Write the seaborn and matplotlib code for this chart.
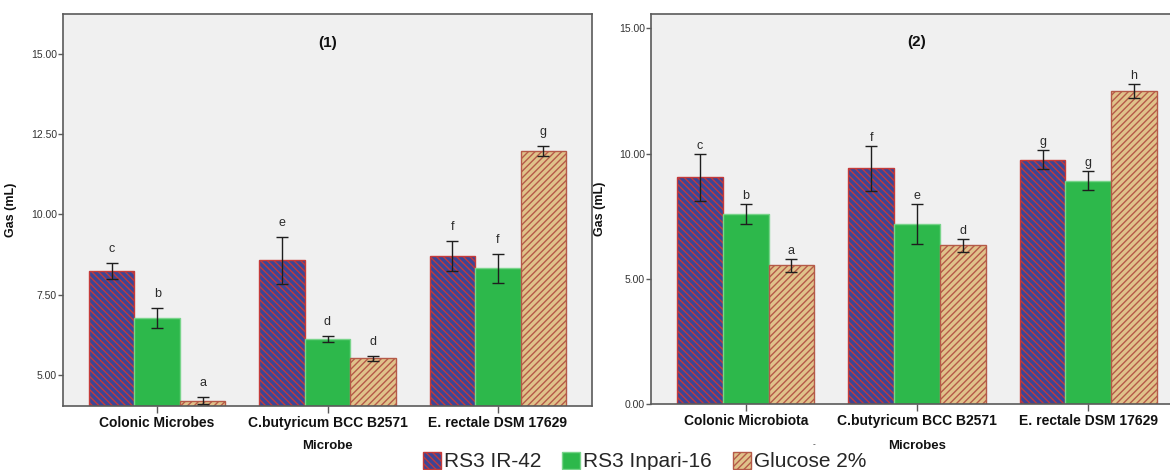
import numpy as np
import pandas as pd
import matplotlib
matplotlib.use("Agg")
import matplotlib.pyplot as plt
from matplotlib.patches import Patch
from matplotlib.ticker import FormatStrFormatter
import seaborn as sns

# ---- data ---------------------------------------------------------------
treatments = ["RS3 IR-42", "RS3 Inpari-16", "Glucose 2%"]

# panel (1)
microbes_1 = ["Colonic Microbes", "C.butyricum BCC B2571", "E. rectale DSM 17629"]
ir42_1 = [8.23, 8.57, 8.70]
ir42_err_1 = [0.25, 0.73, 0.47]
inpari_1 = [6.77, 6.11, 8.31]
inpari_err_1 = [0.32, 0.09, 0.46]
glucose_1 = [4.19, 5.51, 11.97]
glucose_err_1 = [0.11, 0.08, 0.15]
ir42_sig_1 = ["c", "e", "f"]
inpari_sig_1 = ["b", "d", "f"]
glucose_sig_1 = ["a", "d", "g"]

# panel (2)
microbes_2 = ["Colonic Microbiota", "C.butyricum BCC B2571", "E. rectale DSM 17629"]
ir42_2 = [9.05, 9.41, 9.75]
ir42_err_2 = [0.95, 0.90, 0.38]
inpari_2 = [7.58, 7.19, 8.91]
inpari_err_2 = [0.40, 0.81, 0.38]
glucose_2 = [5.53, 6.33, 12.50]
glucose_err_2 = [0.26, 0.26, 0.29]
ir42_sig_2 = ["c", "f", "g"]
inpari_sig_2 = ["b", "e", "g"]
glucose_sig_2 = ["a", "d", "h"]

yticks_1 = [5.0, 7.5, 10.0, 12.5, 15.0]
yticks_2 = [0.0, 5.0, 10.0, 15.0]

# ---- styling ------------------------------------------------------------
sns.set_style("white")
plt.rcParams["font.family"] = ["Liberation Sans", "DejaVu Sans"]
plt.rcParams["hatch.linewidth"] = 1.0

fill = {"RS3 IR-42": "#3C4596", "RS3 Inpari-16": "#2DB84B", "Glucose 2%": "#E0C28A"}
edge = {"RS3 IR-42": "#C43A3A", "RS3 Inpari-16": "#78D48A", "Glucose 2%": "#B55A48"}
hatch = {"RS3 IR-42": "\\\\\\\\\\", "RS3 Inpari-16": "", "Glucose 2%": "/////"}
frame_col = "#5A5A5A"
bg_col = "#F0F0F0"


def draw_panel(ax, microbes, values, errors, sigs, ylim, yticks, title,
               title_y, xlabel, sig_offset, xlabel_y, ylabel_x):
    rows = []
    for t, vals in zip(treatments, values):
        for m, v in zip(microbes, vals):
            rows.append({"Microbe": m, "Treatment": t, "Gas": v})
    df = pd.DataFrame(rows)

    sns.barplot(data=df, x="Microbe", y="Gas", hue="Treatment",
                order=microbes, hue_order=treatments, palette=fill,
                saturation=1, errorbar=None, width=0.8, legend=False, ax=ax)

    for t, cont, vals, errs, letters in zip(treatments, ax.containers,
                                            values, errors, sigs):
        for bar in cont:
            bar.set_facecolor(fill[t])
            bar.set_edgecolor(edge[t])
            bar.set_hatch(hatch[t])
            bar.set_linewidth(1.0)
        xs = [b.get_x() + b.get_width() / 2 for b in cont]
        ax.errorbar(xs, vals, yerr=errs, fmt="none", ecolor="#1E1E1E",
                    elinewidth=1.0, capsize=4.5, capthick=1.0, zorder=4)
        for x, v, e, s in zip(xs, vals, errs, letters):
            ax.annotate(s, (x, v + e), xytext=(0, sig_offset),
                        textcoords="offset points", ha="center",
                        va="baseline", fontsize=9, color="#2A2A2A")

    ax.set_facecolor(bg_col)
    ax.set_xlim(-0.553, 2.553)
    ax.set_ylim(*ylim)
    ax.set_yticks(yticks)
    ax.yaxis.set_major_formatter(FormatStrFormatter("%.2f"))
    ax.tick_params(axis="y", length=3.5, width=1.0, pad=0.8, labelsize=7.5,
                   colors=frame_col, labelcolor="#333333", left=True)
    ax.tick_params(axis="x", length=5, width=1.0, pad=2, labelsize=10,
                   colors=frame_col, labelcolor="#111111", bottom=True)
    for lab in ax.get_xticklabels():
        lab.set_fontweight("bold")
    for sp in ax.spines.values():
        sp.set_visible(True)
        sp.set_color(frame_col)
        sp.set_linewidth(1.2)

    ax.set_xlabel(xlabel, fontsize=9.5, fontweight="bold", color="#111111")
    ax.xaxis.label.set_va("center")
    ax.xaxis.set_label_coords(0.5, xlabel_y)
    ax.set_ylabel("Gas (mL)", fontsize=9, fontweight="bold", color="#111111")
    ax.yaxis.set_label_coords(ylabel_x, 0.5)
    ax.text(1, title_y, title, ha="center", va="center", fontsize=11,
            fontweight="bold", color="#111111")


W, H = 1170, 470
fig = plt.figure(figsize=(W / 100, H / 100), dpi=100)
fig.patch.set_facecolor("white")

ax1 = fig.add_axes([63 / W, 1 - 406 / H, (592 - 63) / W, (406 - 14) / H])
ax2 = fig.add_axes([651 / W, 1 - 404 / H, (1183 - 651) / W, (404 - 14) / H])

draw_panel(ax1, microbes_1,
           [ir42_1, inpari_1, glucose_1],
           [ir42_err_1, inpari_err_1, glucose_err_1],
           [ir42_sig_1, inpari_sig_1, glucose_sig_1],
           (4.03, 16.23), yticks_1, "(1)", 15.32, "Microbe", 8.0, -0.102, -0.087)
draw_panel(ax2, microbes_2,
           [ir42_2, inpari_2, glucose_2],
           [ir42_err_2, inpari_err_2, glucose_err_2],
           [ir42_sig_2, inpari_sig_2, glucose_sig_2],
           (0.0, 15.57), yticks_2, "(2)", 14.45, "Microbes", 3.5, -0.108, -0.085)

handles = [Patch(facecolor=fill[t], edgecolor=edge[t], hatch=hatch[t],
                 linewidth=1.0, label=t) for t in treatments]
fig.legend(handles=handles, loc="center", bbox_to_anchor=(0.551, 0.018),
           ncol=3, frameon=False, fontsize=15, handlelength=0.85,
           handleheight=0.9, handletextpad=0.15, columnspacing=1.0,
           borderaxespad=0, borderpad=0)
fig.text(814 / W, 1 - 445 / H, "-", fontsize=6, ha="center", va="center",
         color="#222222")

fig.savefig("out.png", dpi=100, facecolor="white")
